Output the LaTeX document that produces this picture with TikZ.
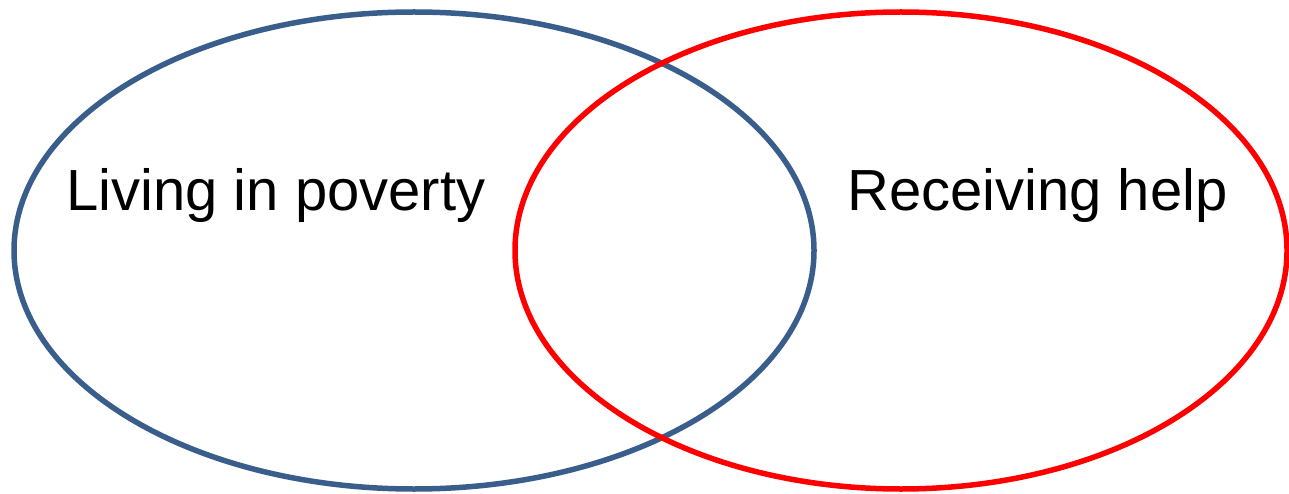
\documentclass[tikz,border=0pt]{standalone}
\usepackage{fontspec}
\setmainfont{Liberation Sans}
\definecolor{vblue}{HTML}{3A5E8C}
\definecolor{vred}{HTML}{FF0000}
\begin{document}
\begin{tikzpicture}[x=1pt,y=-1pt,
  circ/.style={line width=5.5pt},
  lbl/.style={anchor=base west,inner sep=0pt,font=\fontsize{58}{60}\selectfont}]
\useasboundingbox (0,0) rectangle (1289,494);
\draw[circ,vblue] (414,250.5) ellipse [x radius=400, y radius=238.5];
\draw[circ,vred] (901,250.5) ellipse [x radius=386, y radius=238.5];
\node[lbl] (pov) at (66,211) {Living in poverty};
\node[lbl] (help) at (847,211) {Receiving help};
\end{tikzpicture}
\end{document}
